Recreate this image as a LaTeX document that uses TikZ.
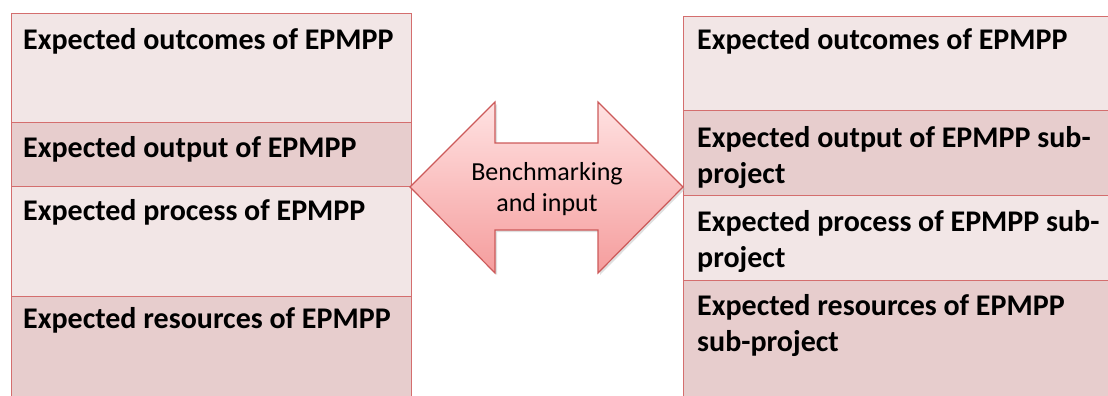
\documentclass[tikz,border=0pt]{standalone}
\usepackage{fontspec}
\setmainfont{Carlito}
\definecolor{rowlight}{HTML}{F2E6E6}
\definecolor{rowdark}{HTML}{E7CDCD}
\definecolor{rowline}{HTML}{D46E6E}
\definecolor{arrtop}{HTML}{FFE2E2}
\definecolor{arrbot}{HTML}{F59D9D}
\definecolor{arrline}{HTML}{CC5A5A}
\begin{document}
\begin{tikzpicture}[x=1pt,y=-1pt,
  rowbox/.style={draw=rowline, line width=1.2pt, inner sep=0pt, anchor=north west},
  lrow/.style={rowbox, minimum width=400pt},
  rrow/.style={rowbox, minimum width=440pt},
  rowtext/.style={font=\fontsize{30}{36}\selectfont\bfseries, anchor=base west, inner sep=0pt, align=left},
  arrowtext/.style={font=\fontsize{26}{31}\selectfont, align=center, inner sep=0pt}]
\useasboundingbox (0,0) rectangle (1108,396);
% left column
\node[lrow, fill=rowlight, minimum height=109pt] (L1) at (11,13) {};
\node[lrow, fill=rowdark, minimum height=64pt] (L2) at (11,122) {};
\node[lrow, fill=rowlight, minimum height=110pt] (L3) at (11,186) {};
\node[lrow, fill=rowdark, minimum height=110pt] (L4) at (11,296) {};
\node[rowtext] (L1t) at (23,49) {Expected outcomes of EPMPP};
\node[rowtext] (L2t) at (23,157) {Expected output of EPMPP};
\node[rowtext] (L3t) at (23,220) {Expected process of EPMPP};
\node[rowtext] (L4t) at (23,328) {Expected resources of EPMPP};
% right column
\node[rrow, fill=rowlight, minimum height=94pt] (R1) at (683,16) {};
\node[rrow, fill=rowdark, minimum height=85pt] (R2) at (683,110) {};
\node[rrow, fill=rowlight, minimum height=85pt] (R3) at (683,195) {};
\node[rrow, fill=rowdark, minimum height=130pt] (R4) at (683,280) {};
\node[rowtext] (R1t) at (697,49) {Expected outcomes of EPMPP};
\node[rowtext, anchor=north west] (R2t) at (697,126) {Expected output of EPMPP sub-\\project};
\node[rowtext, anchor=north west] (R3t) at (697,210) {Expected process of EPMPP sub-\\project};
\node[rowtext, anchor=north west] (R4t) at (697,294) {Expected resources of EPMPP\\sub-project};
% double arrow
\fill[black!25, opacity=0.5] (412,189) -- (497,104) -- (497,145) -- (600,145) -- (600,104) -- (685,189) -- (600,275) -- (600,232) -- (497,232) -- (497,275) -- cycle;
\draw[arrline, line width=1.2pt, top color=arrtop, bottom color=arrbot, line join=miter]
  (410,187) -- (495,102) -- (495,143) -- (598,143) -- (598,102) -- (683,187)
  -- (598,273) -- (598,230) -- (495,230) -- (495,273) -- cycle;
\node[arrowtext] (A) at (547,189) {Benchmarking\\and input};
\end{tikzpicture}
\end{document}
